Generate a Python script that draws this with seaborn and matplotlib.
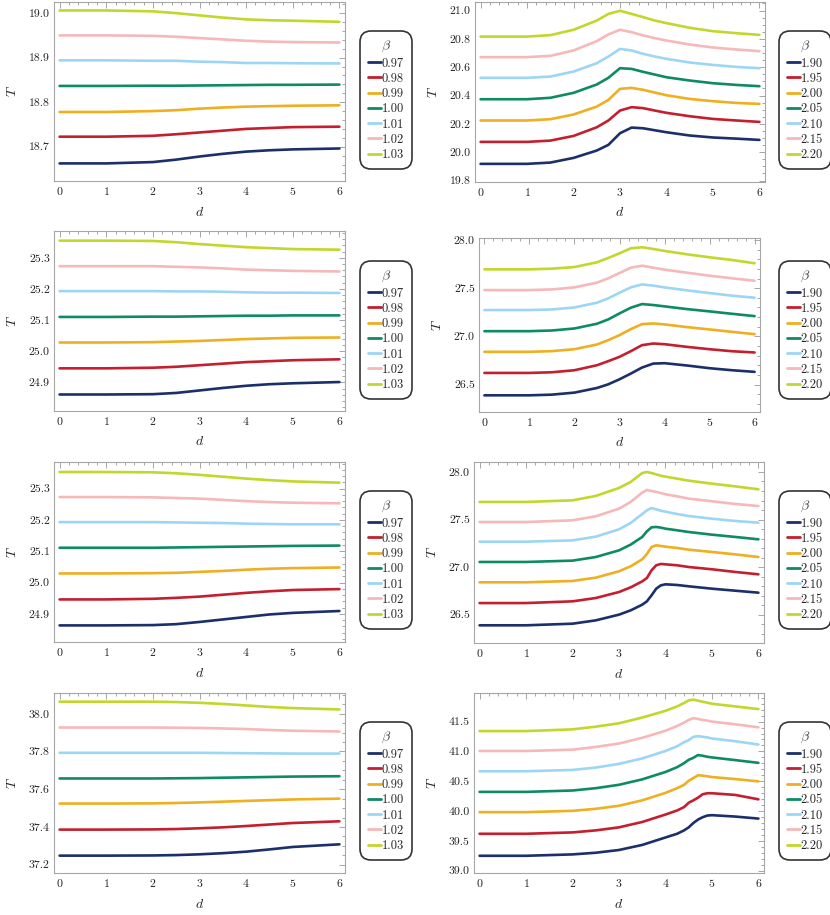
import matplotlib
matplotlib.use('Agg')
import matplotlib.pyplot as plt
import seaborn as sns
import pandas as pd
from matplotlib.ticker import MultipleLocator, AutoMinorLocator, FormatStrFormatter
from matplotlib.lines import Line2D

sns.set_theme(style='white')
plt.rcParams['font.family'] = ['serif']
plt.rcParams['font.serif'] = ['cmr10', 'DejaVu Serif']
plt.rcParams['mathtext.fontset'] = 'cm'
plt.rcParams['axes.formatter.use_mathtext'] = True

# ---- data ----
colors = ['#1c2f6a', '#c31f2f', '#eeaf22', '#0e8a65', '#9cd6f4', '#f6b8b8', '#c2d72c']
beta_low = ['0.97', '0.98', '0.99', '1.00', '1.01', '1.02', '1.03']
beta_high = ['1.90', '1.95', '2.00', '2.05', '2.10', '2.15', '2.20']

d_left = [0, 1, 2, 2.5, 3, 3.5, 4, 4.5, 5, 6]
d_right_ab = [0, 1, 1.5, 2, 2.5, 2.75, 3, 3.25, 3.5, 3.75, 4, 4.5, 5, 5.5, 6]
d_right_c = [0, 1, 2, 2.5, 3, 3.25, 3.5, 3.6, 3.7, 3.8, 3.9, 4, 4.25, 4.5, 5, 5.5, 6]
d_right_d = [0, 1, 2, 2.5, 3, 3.5, 4, 4.25, 4.4, 4.5, 4.6, 4.7, 4.8, 4.9, 5, 5.5, 6]

# row 1, left (beta 0.97 ... 1.03)
T_1L = [
    [18.6625, 18.6625, 18.6655, 18.671, 18.678, 18.684, 18.689, 18.692, 18.694, 18.696],
    [18.7225, 18.7225, 18.7245, 18.728, 18.732, 18.736, 18.740, 18.742, 18.744, 18.745],
    [18.778, 18.778, 18.780, 18.782, 18.7855, 18.788, 18.790, 18.791, 18.792, 18.793],
    [18.8365, 18.8365, 18.837, 18.837, 18.8375, 18.838, 18.8385, 18.839, 18.839, 18.8395],
    [18.894, 18.894, 18.893, 18.893, 18.891, 18.890, 18.888, 18.888, 18.8875, 18.887],
    [18.950, 18.950, 18.949, 18.947, 18.944, 18.941, 18.938, 18.936, 18.935, 18.934],
    [19.006, 19.006, 19.004, 19.000, 18.995, 18.990, 18.986, 18.984, 18.983, 18.9805],
]
# row 1, right (beta 1.90 ... 2.20)
T_1R = [
    [19.918, 19.918, 19.927, 19.960, 20.012, 20.052, 20.134, 20.174, 20.169, 20.155, 20.141, 20.118, 20.104, 20.096, 20.087],
    [20.073, 20.073, 20.082, 20.115, 20.176, 20.224, 20.294, 20.318, 20.311, 20.294, 20.278, 20.254, 20.235, 20.224, 20.214],
    [20.224, 20.224, 20.233, 20.266, 20.322, 20.369, 20.447, 20.454, 20.440, 20.421, 20.402, 20.376, 20.360, 20.348, 20.341],
    [20.374, 20.374, 20.384, 20.419, 20.478, 20.525, 20.593, 20.588, 20.567, 20.548, 20.529, 20.506, 20.487, 20.475, 20.466],
    [20.525, 20.525, 20.534, 20.569, 20.628, 20.675, 20.729, 20.718, 20.694, 20.675, 20.659, 20.633, 20.616, 20.602, 20.593],
    [20.671, 20.671, 20.680, 20.718, 20.784, 20.831, 20.864, 20.847, 20.824, 20.805, 20.788, 20.760, 20.739, 20.725, 20.713],
    [20.816, 20.816, 20.826, 20.864, 20.929, 20.976, 20.998, 20.976, 20.953, 20.929, 20.911, 20.878, 20.854, 20.840, 20.828],
]
# row 2, left
T_2L = [
    [24.861, 24.861, 24.862, 24.866, 24.874, 24.882, 24.889, 24.894, 24.897, 24.901],
    [24.945, 24.945, 24.947, 24.950, 24.955, 24.960, 24.965, 24.968, 24.971, 24.974],
    [25.028, 25.028, 25.029, 25.031, 25.033, 25.036, 25.039, 25.041, 25.043, 25.044],
    [25.110, 25.110, 25.111, 25.111, 25.112, 25.113, 25.114, 25.114, 25.115, 25.115],
    [25.193, 25.193, 25.193, 25.192, 25.192, 25.191, 25.189, 25.188, 25.188, 25.187],
    [25.273, 25.273, 25.273, 25.271, 25.269, 25.266, 25.262, 25.260, 25.258, 25.256],
    [25.355, 25.355, 25.354, 25.350, 25.344, 25.339, 25.334, 25.331, 25.328, 25.326],
]
# row 2, right
T_2R = [
    [26.389, 26.389, 26.396, 26.417, 26.465, 26.503, 26.555, 26.614, 26.677, 26.718, 26.722, 26.698, 26.670, 26.649, 26.632],
    [26.621, 26.621, 26.628, 26.649, 26.701, 26.743, 26.788, 26.846, 26.909, 26.926, 26.919, 26.891, 26.867, 26.846, 26.833],
    [26.840, 26.840, 26.847, 26.867, 26.916, 26.961, 27.013, 27.075, 27.127, 27.134, 27.124, 27.096, 27.072, 27.047, 27.023],
    [27.054, 27.054, 27.061, 27.082, 27.131, 27.176, 27.238, 27.297, 27.335, 27.325, 27.311, 27.283, 27.259, 27.234, 27.210],
    [27.273, 27.273, 27.279, 27.300, 27.349, 27.394, 27.453, 27.508, 27.539, 27.526, 27.508, 27.477, 27.449, 27.422, 27.401],
    [27.480, 27.480, 27.487, 27.508, 27.557, 27.602, 27.657, 27.712, 27.733, 27.712, 27.692, 27.660, 27.629, 27.602, 27.577],
    [27.695, 27.695, 27.702, 27.719, 27.768, 27.813, 27.861, 27.913, 27.924, 27.906, 27.886, 27.851, 27.820, 27.792, 27.758],
]
# row 3, left
T_3L = [
    [24.863, 24.863, 24.864, 24.867, 24.874, 24.882, 24.890, 24.898, 24.903, 24.909],
    [24.946, 24.946, 24.948, 24.951, 24.955, 24.961, 24.967, 24.972, 24.976, 24.979],
    [25.029, 25.029, 25.030, 25.031, 25.034, 25.037, 25.041, 25.044, 25.046, 25.048],
    [25.111, 25.111, 25.111, 25.112, 25.113, 25.114, 25.115, 25.116, 25.117, 25.118],
    [25.193, 25.193, 25.193, 25.192, 25.191, 25.190, 25.188, 25.187, 25.186, 25.186],
    [25.273, 25.273, 25.272, 25.270, 25.268, 25.264, 25.260, 25.257, 25.255, 25.253],
    [25.353, 25.353, 25.352, 25.349, 25.344, 25.338, 25.332, 25.327, 25.323, 25.319],
]
# row 3, right
T_3R = [
    [26.388, 26.388, 26.405, 26.440, 26.500, 26.545, 26.605, 26.640, 26.703, 26.773, 26.808, 26.819, 26.812, 26.798, 26.773, 26.752, 26.731],
    [26.622, 26.622, 26.640, 26.675, 26.738, 26.787, 26.850, 26.885, 26.966, 27.019, 27.033, 27.029, 27.019, 27.001, 26.977, 26.949, 26.924],
    [26.840, 26.840, 26.854, 26.889, 26.956, 27.008, 27.082, 27.138, 27.211, 27.229, 27.222, 27.215, 27.201, 27.183, 27.159, 27.134, 27.106],
    [27.054, 27.054, 27.068, 27.106, 27.176, 27.236, 27.317, 27.376, 27.418, 27.422, 27.415, 27.404, 27.387, 27.369, 27.341, 27.317, 27.292],
    [27.267, 27.267, 27.281, 27.320, 27.397, 27.464, 27.558, 27.597, 27.621, 27.607, 27.593, 27.583, 27.558, 27.537, 27.509, 27.485, 27.467],
    [27.474, 27.474, 27.492, 27.534, 27.614, 27.685, 27.783, 27.811, 27.800, 27.790, 27.779, 27.765, 27.744, 27.720, 27.692, 27.664, 27.642],
    [27.685, 27.685, 27.702, 27.748, 27.832, 27.895, 27.989, 28.000, 27.989, 27.975, 27.961, 27.951, 27.930, 27.909, 27.877, 27.849, 27.818],
]
# row 4, left
T_4L = [
    [37.248, 37.248, 37.249, 37.251, 37.255, 37.261, 37.269, 37.281, 37.294, 37.308],
    [37.386, 37.386, 37.387, 37.389, 37.393, 37.398, 37.405, 37.413, 37.421, 37.430],
    [37.524, 37.524, 37.525, 37.527, 37.530, 37.534, 37.538, 37.542, 37.546, 37.550],
    [37.657, 37.657, 37.657, 37.658, 37.659, 37.661, 37.663, 37.665, 37.667, 37.669],
    [37.793, 37.793, 37.793, 37.793, 37.793, 37.792, 37.791, 37.790, 37.789, 37.789],
    [37.927, 37.927, 37.927, 37.926, 37.925, 37.922, 37.919, 37.914, 37.910, 37.906],
    [38.064, 38.064, 38.064, 38.062, 38.058, 38.052, 38.044, 38.036, 38.030, 38.023],
]
# row 4, right
T_4R = [
    [39.249, 39.249, 39.272, 39.300, 39.346, 39.431, 39.556, 39.618, 39.675, 39.726, 39.799, 39.856, 39.896, 39.924, 39.930, 39.907, 39.873],
    [39.618, 39.618, 39.641, 39.675, 39.726, 39.816, 39.941, 40.009, 40.066, 40.139, 40.179, 40.224, 40.281, 40.298, 40.298, 40.270, 40.196],
    [39.981, 39.981, 40.003, 40.037, 40.088, 40.179, 40.304, 40.383, 40.440, 40.508, 40.553, 40.599, 40.593, 40.582, 40.570, 40.536, 40.497],
    [40.321, 40.321, 40.344, 40.383, 40.440, 40.531, 40.655, 40.735, 40.803, 40.859, 40.893, 40.939, 40.927, 40.910, 40.899, 40.854, 40.808],
    [40.667, 40.667, 40.689, 40.729, 40.791, 40.882, 41.007, 41.086, 41.154, 41.188, 41.245, 41.256, 41.245, 41.234, 41.217, 41.171, 41.115],
    [41.007, 41.007, 41.029, 41.075, 41.132, 41.228, 41.347, 41.426, 41.483, 41.528, 41.557, 41.545, 41.528, 41.517, 41.500, 41.455, 41.404],
    [41.341, 41.341, 41.370, 41.415, 41.472, 41.568, 41.681, 41.755, 41.812, 41.857, 41.868, 41.851, 41.834, 41.817, 41.800, 41.755, 41.710],
]

W, H = 830, 915
fig = plt.figure(figsize=(W / 100, H / 100), dpi=100)

# panel: (d grid, T lists, beta labels, ylim, major, minor divisions, frame px, legend centre px)
panels = [
    (d_left, T_1L, beta_low, (18.623, 19.025), 0.1, 5, (54, 2, 345, 181), (386, 100)),
    (d_right_ab, T_1R, beta_high, (19.79, 21.06), 0.2, 4, (475, 2, 765, 182), (805, 100)),
    (d_left, T_2L, beta_low, (24.808, 25.386), 0.1, 5, (54, 231, 345, 411), (386, 330)),
    (d_right_ab, T_2R, beta_high, (26.216, 28.02), 0.5, 5, (479, 238, 760, 412), (805, 330)),
    (d_left, T_3L, beta_low, (24.81, 25.385), 0.1, 5, (54, 462, 345, 642), (386, 560)),
    (d_right_c, T_3R, beta_high, (26.202, 28.105), 0.5, 5, (474, 462, 764, 643), (805, 560)),
    (d_left, T_4L, beta_low, (37.156, 38.11), 0.2, 4, (54, 693, 345, 873), (386, 791)),
    (d_right_d, T_4R, beta_high, (38.96, 41.98), 0.5, 5, (474, 693, 764, 873), (805, 791)),
]

frame_col = '#a6a6a6'

for d_vals, T_sets, labels, ylim, major, ndiv, (l, t, r, b), (lx, ly) in panels:
    ax = fig.add_axes([l / W, 1 - b / H, (r - l) / W, (b - t) / H])
    rows = []
    for lab, Ts in zip(labels, T_sets):
        for dv, tv in zip(d_vals, Ts):
            rows.append({'d': dv, 'T': tv, 'beta': lab})
    df = pd.DataFrame(rows)
    sns.lineplot(data=df, x='d', y='T', hue='beta', hue_order=labels,
                 palette=colors, lw=1.9, legend=False, ax=ax)

    ax.set_xlim(-0.12, 6.12)
    ax.set_ylim(*ylim)
    ax.xaxis.set_major_locator(MultipleLocator(1))
    ax.xaxis.set_minor_locator(AutoMinorLocator(5))
    ax.yaxis.set_major_locator(MultipleLocator(major))
    ax.yaxis.set_minor_locator(AutoMinorLocator(ndiv))
    ax.yaxis.set_major_formatter(FormatStrFormatter('%.1f'))
    ax.tick_params(which='both', direction='in', top=True, right=True,
                   color=frame_col, width=0.7, labelsize=8.5, labelcolor='#222222', pad=3)
    ax.tick_params(which='major', length=4)
    ax.tick_params(which='minor', length=2.2)
    for sp in ax.spines.values():
        sp.set_color(frame_col)
        sp.set_linewidth(0.8)
    ax.set_xlabel('$d$', fontsize=10, labelpad=6)
    ax.set_ylabel('$T$', fontsize=10, labelpad=7)

    handles = [Line2D([0], [0], color=c, lw=2) for c in colors]
    leg = ax.legend(handles, labels, title=r'$\beta$', loc='center',
                    bbox_to_anchor=(lx / W, 1 - ly / H), bbox_transform=fig.transFigure,
                    fontsize=9, title_fontsize=10, handlelength=1.0, handletextpad=0.1,
                    labelspacing=0.25, borderpad=0.35, borderaxespad=0,
                    frameon=True, fancybox=True)
    fr = leg.get_frame()
    fr.set_edgecolor('black')
    fr.set_linewidth(1.2)
    fr.set_boxstyle('round,pad=0.3,rounding_size=0.9')
    leg.get_title().set_color('#444444')

fig.savefig('out.png', dpi=100)
